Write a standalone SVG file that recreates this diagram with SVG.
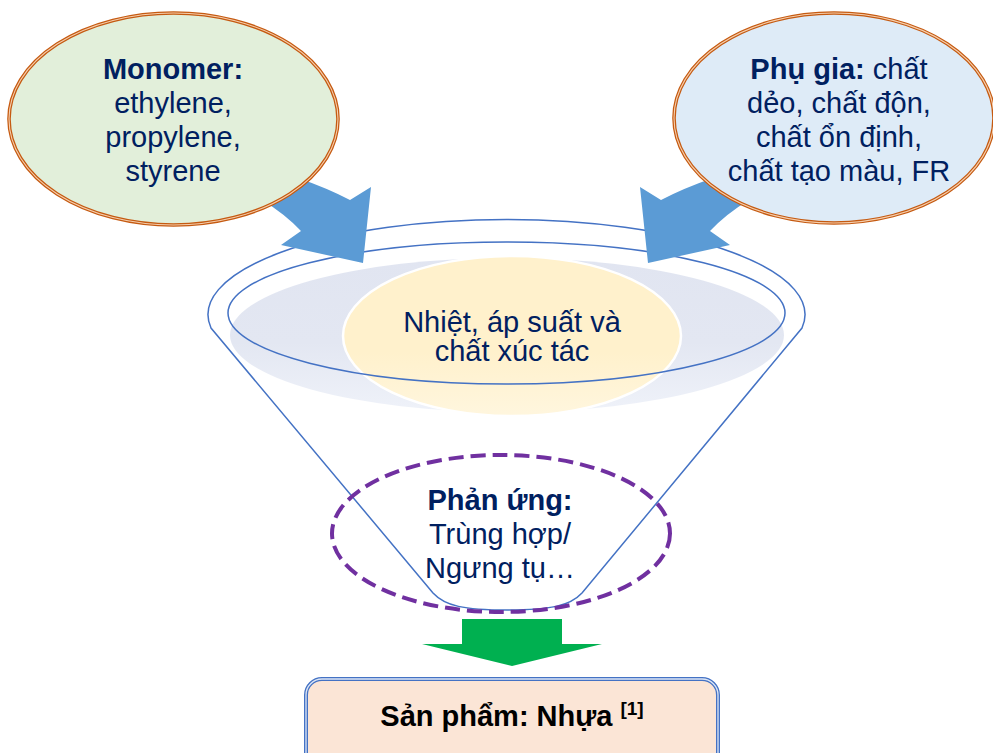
<svg xmlns="http://www.w3.org/2000/svg" width="993" height="753" viewBox="0 0 993 753">
<defs>
<linearGradient id="gShade" x1="0" y1="0" x2="0" y2="1">
<stop offset="0" stop-color="#E1E5F1"/>
<stop offset="0.55" stop-color="#E3E7F2"/>
<stop offset="1" stop-color="#EFF2F9"/>
</linearGradient>
<linearGradient id="gYellow" x1="0" y1="0" x2="0" y2="1">
<stop offset="0" stop-color="#FFF1CC"/>
<stop offset="0.6" stop-color="#FFF1CC"/>
<stop offset="1" stop-color="#FFF6DE"/>
</linearGradient>
<style>
.t{font-family:"Liberation Sans",Arial,sans-serif;font-size:29px;fill:#002060;text-anchor:middle}
.b{font-weight:bold}
.outline{fill:none;stroke:#4472C4;stroke-width:1.5}
.blue{fill:#5B9BD5}
.dbl{stroke:#C55A11;stroke-width:3.6}
.dblin{fill:none;stroke:#F6CFAE;stroke-width:1.1}
</style>
</defs>

<g id="funnel">
<ellipse cx="507" cy="335" rx="277" ry="77" fill="url(#gShade)"/>
<ellipse cx="512" cy="336" rx="169" ry="80" fill="url(#gYellow)" stroke="#FFFFFF" stroke-width="2.5"/>
<path class="outline" d="M 211,328 A 298.5 95 0 1 1 802,328 L 582,593 C 570,606 550,610 507,610 C 464,610 445,606 433,593 Z"/>
<ellipse class="outline" cx="506.5" cy="313" rx="278.5" ry="71"/>
<text class="t" x="512" y="332">Nhiệt, áp suất và</text>
<text class="t" x="512" y="361">chất xúc tác</text>
</g>

<g id="connectors">
<path class="blue" d="M 298,178 Q 327,188 350,200 L 371,187 L 363,263 L 281,245 L 301,231 Q 285,214 262,200 Z"/>
<path class="blue" d="M 713,178 Q 684,188 661,200 L 640,187 L 648,263 L 730,245 L 710,231 Q 726,214 749,200 Z"/>
<path fill="#00B050" d="M 462,619 L 562,619 L 562,644 L 602,644 L 512,666 L 422,644 L 462,644 Z"/>
</g>

<g id="monomer">
<ellipse class="dbl" cx="173.5" cy="119" rx="164.5" ry="106" fill="#E2EFDA"/>
<ellipse class="dblin" cx="173.5" cy="119" rx="164.5" ry="106"/>
<text class="t b" x="173" y="79">Monomer:</text>
<text class="t" x="173" y="113">ethylene,</text>
<text class="t" x="173" y="147">propylene,</text>
<text class="t" x="173" y="181">styrene</text>
</g>

<g id="phugia">
<ellipse class="dbl" cx="834" cy="118" rx="160" ry="105" fill="#DEEBF7"/>
<ellipse class="dblin" cx="834" cy="118" rx="160" ry="105"/>
<text class="t" x="839" y="79"><tspan class="b">Phụ gia:</tspan> chất</text>
<text class="t" x="839" y="113">dẻo, chất độn,</text>
<text class="t" x="839" y="147">chất ổn định,</text>
<text class="t" x="839" y="181">chất tạo màu, FR</text>
</g>

<g id="phanung">
<ellipse cx="501" cy="533.5" rx="169" ry="78.5" fill="none" stroke="#7030A0" stroke-width="4" stroke-dasharray="15 7"/>
<text class="t b" x="500" y="510">Phản ứng:</text>
<text class="t" x="500" y="544">Trùng hợp/</text>
<text class="t" x="500" y="578">Ngưng tụ…</text>
</g>

<g id="sanpham">
<rect x="306" y="679" width="412" height="95" rx="16" fill="#FBE5D6" stroke="#4472C4" stroke-width="4"/>
<rect x="306" y="679" width="412" height="95" rx="16" fill="none" stroke="#DDE6F6" stroke-width="1.3"/>
<text class="t b" x="512" y="726" style="fill:#000000">Sản phẩm: Nhựa <tspan font-size="19" dy="-11">[1]</tspan></text>
</g>
</svg>
